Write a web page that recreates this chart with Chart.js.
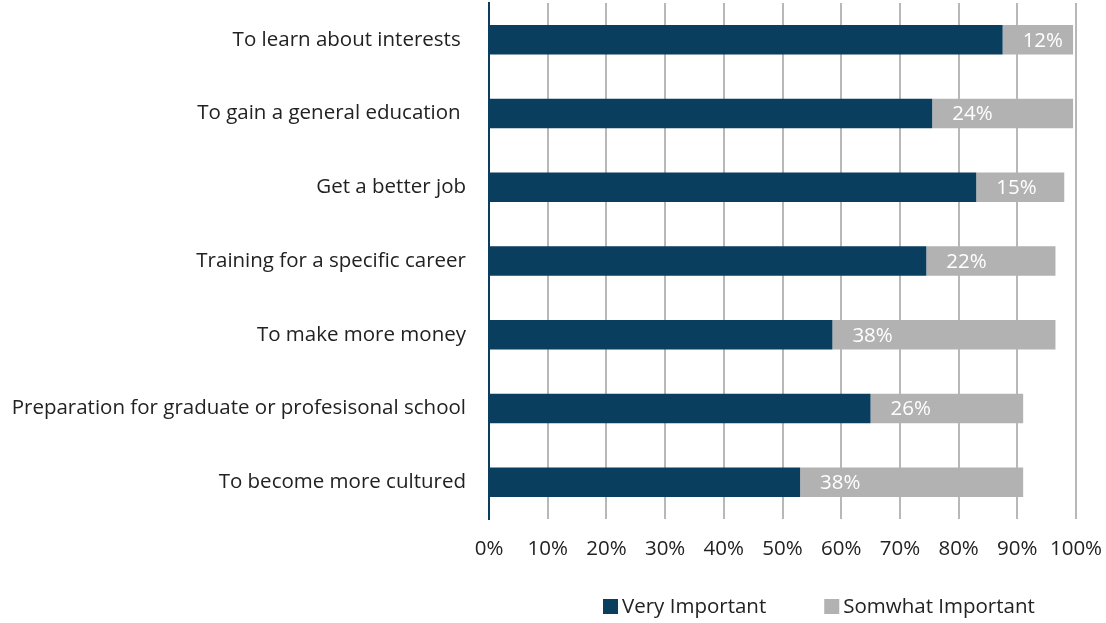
<!DOCTYPE html>
<html>
<head>
<meta charset="utf-8">
<script src="https://cdn.jsdelivr.net/npm/chart.js@4"></script>
<style>
	html, body { margin: 0; padding: 0; background: #fff; }
	#wrap { width: 1106px; height: 623px; position: relative; }
</style>
</head>
<body>
<div id="wrap"><canvas id="chart"></canvas></div>
<script>
const categories = [
	'To learn about interests ',
	'To gain a general education ',
	'Get a better job',
	'Training for a specific career',
	'To make more money',
	'Preparation for graduate or profesisonal school',
	'To become more cultured',
];
const veryImportant = [87.5, 75.5, 83, 74.5, 58.5, 65, 53];
const somewhatImportant = [12, 24, 15, 22, 38, 26, 38];
const percentTicks = [0, 10, 20, 30, 40, 50, 60, 70, 80, 90, 100];

const NAVY = '#0a3e5e';
const GREY = '#b2b2b2';
const FONT = '"Open Sans", sans-serif';
const SIZE = 20.5;

// white % labels on the grey segments
const segmentLabels = {
	id: 'segmentLabels',
	afterDatasetsDraw(chart) {
		const ctx = chart.ctx;
		const meta = chart.getDatasetMeta(1);
		ctx.save();
		ctx.fillStyle = '#ffffff';
		ctx.font = SIZE + 'px ' + FONT;
		ctx.textAlign = 'left';
		ctx.textBaseline = 'middle';
		meta.data.forEach((bar, i) => {
			ctx.fillText(Math.round(somewhatImportant[i]) + '%', bar.base + 20, bar.y + 1);
		});
		ctx.restore();
	},
};

// legend under the plot, shifted right like the original
const bottomLegend = {
	id: 'bottomLegend',
	afterDraw(chart) {
		const ctx = chart.ctx;
		let x = chart.chartArea.left + 114;
		const y = 607;
		ctx.save();
		ctx.font = SIZE + 'px ' + FONT;
		ctx.textBaseline = 'middle';
		ctx.textAlign = 'left';
		chart.data.datasets.forEach((ds) => {
			ctx.fillStyle = ds.backgroundColor;
			ctx.fillRect(x, y - 8, 15, 15);
			ctx.fillStyle = '#222';
			ctx.fillText(ds.label, x + 19, y);
			x += 19 + ctx.measureText(ds.label).width + 58;
		});
		ctx.restore();
	},
};

new Chart(document.getElementById('chart'), {
	type: 'bar',
	data: {
		labels: categories,
		datasets: [
			{ label: 'Very Important', data: veryImportant, backgroundColor: NAVY },
			{ label: 'Somwhat Important', data: somewhatImportant, backgroundColor: GREY },
		],
	},
	options: {
		indexAxis: 'y',
		responsive: true,
		maintainAspectRatio: false,
		animation: false,
		events: [],
		datasets: {
			bar: { categoryPercentage: 1, barPercentage: 0.4 },
		},
		layout: { padding: { top: 3, right: 30, bottom: 62, left: 0 } },
		plugins: {
			legend: { display: false },
			tooltip: { enabled: false },
		},
		scales: {
			x: {
				stacked: true,
				min: 0,
				max: 100,
				afterBuildTicks(scale) {
					scale.ticks = percentTicks.map(v => ({ value: v }));
				},
				afterFit(scale) {
					scale.height = 42;
					scale.paddingRight = 0;
					scale.paddingLeft = 0;
				},
				grid: { color: '#b8b8b8', lineWidth: 2, drawTicks: false },
				border: { display: false },
				ticks: {
					padding: 18,
					color: '#222',
					font: { family: FONT, size: SIZE },
					maxRotation: 0,
					callback: v => v + '%',
				},
			},
			y: {
				stacked: true,
				grid: { display: false, drawTicks: false },
				border: { display: true, color: NAVY, width: 2 },
				afterFit(scale) {
					scale.width = 489;
					scale.paddingTop = 0;
					scale.paddingBottom = 0;
				},
				ticks: {
					padding: 23,
					color: '#222',
					font: { family: FONT, size: SIZE },
				},
			},
		},
	},
	plugins: [segmentLabels, bottomLegend],
});
</script>
</body>
</html>
